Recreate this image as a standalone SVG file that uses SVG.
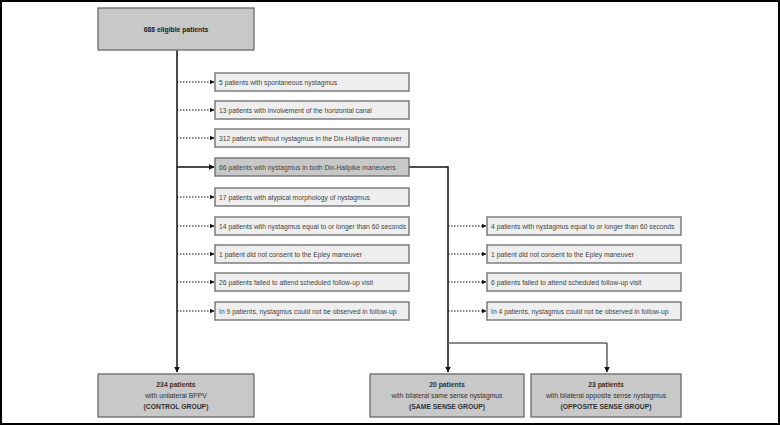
<svg xmlns="http://www.w3.org/2000/svg" width="780" height="425" viewBox="0 0 780 425">
<defs>
<style>
.main{fill:#c8c8c8;stroke:#6a6a6a;stroke-width:1.3}
.ex{fill:#eeeeee;stroke:#6a6a6a;stroke-width:1.3}
.t{font-family:"Liberation Sans",Arial,sans-serif;font-size:6.75px;fill:#444}
.tb{font-family:"Liberation Sans",Arial,sans-serif;font-size:6.8px;fill:#222;font-weight:bold}
.tc{font-family:"Liberation Sans",Arial,sans-serif;font-size:6.8px;fill:#333;text-anchor:middle}
.solid{stroke:#111;stroke-width:1.5;fill:none}
.dot{stroke:#111;stroke-width:1;stroke-dasharray:1.5 1.5;fill:none}
</style>
<marker id="ah" viewBox="0 0 10 10" refX="9" refY="5" markerWidth="4.5" markerHeight="4.5" orient="auto" markerUnits="userSpaceOnUse">
<path d="M0,0 L10,5 L0,10 z" fill="#111"/>
</marker>
<marker id="ahs" viewBox="0 0 10 10" refX="9" refY="5" markerWidth="5.5" markerHeight="5.5" orient="auto" markerUnits="userSpaceOnUse">
<path d="M0,0 L10,5 L0,10 z" fill="#111"/>
</marker>
</defs>
<rect x="0" y="0" width="780" height="425" fill="#fff"/>
<rect x="1" y="1" width="778" height="423" fill="none" stroke="#000" stroke-width="2"/>

<g id="connectors">
<path class="solid" d="M177,50 V372" marker-end="url(#ahs)"/>
<path class="solid" d="M177,167 H214" marker-end="url(#ahs)"/>
<path class="dot" d="M177,82 H214" marker-end="url(#ah)"/>
<path class="dot" d="M177,110 H214" marker-end="url(#ah)"/>
<path class="dot" d="M177,138 H214" marker-end="url(#ah)"/>
<path class="dot" d="M177,197 H214" marker-end="url(#ah)"/>
<path class="dot" d="M177,226 H214" marker-end="url(#ah)"/>
<path class="dot" d="M177,254 H214" marker-end="url(#ah)"/>
<path class="dot" d="M177,282 H214" marker-end="url(#ah)"/>
<path class="dot" d="M177,311 H214" marker-end="url(#ah)"/>
<path class="solid" d="M409,167 H448 V372" marker-end="url(#ahs)"/>
<path class="dot" d="M448,226 H486" marker-end="url(#ah)"/>
<path class="dot" d="M448,254 H486" marker-end="url(#ah)"/>
<path class="dot" d="M448,282 H486" marker-end="url(#ah)"/>
<path class="dot" d="M448,311 H486" marker-end="url(#ah)"/>
<path d="M448,343 H607" stroke="#666" stroke-width="1.5" fill="none"/>
<path d="M607,343 V372" stroke="#111" stroke-width="1" fill="none" marker-end="url(#ahs)"/>
</g>

<g id="n-eligible">
<rect class="main" x="98" y="8" width="156" height="42"/>
<text class="tb" x="176" y="31.5" text-anchor="middle">688 eligible patients</text>
</g>

<g id="n-ex1"><rect class="ex" x="215" y="73" width="194" height="18"/><text class="t" x="219" y="84.5">5 patients with spontaneous nystagmus</text></g>
<g id="n-ex2"><rect class="ex" x="215" y="101" width="194" height="18"/><text class="t" x="219" y="112.5">13 patients with involvement of the horizontal canal</text></g>
<g id="n-ex3"><rect class="ex" x="215" y="129" width="194" height="18"/><text class="t" x="219" y="140.5">312 patients without nystagmus in the Dix-Hallpike maneuver</text></g>
<g id="n-both"><rect class="main" x="215" y="158" width="194" height="18"/><text class="t" x="219" y="169.5">66 patients with nystagmus in both Dix-Hallpike maneuvers</text></g>
<g id="n-ex5"><rect class="ex" x="215" y="188" width="194" height="18"/><text class="t" x="219" y="199.5">17 patients with atypical morphology of nystagmus</text></g>
<g id="n-ex6"><rect class="ex" x="215" y="217" width="194" height="18"/><text class="t" x="219" y="228.5">14 patients with nystagmus equal to or longer than 60 seconds</text></g>
<g id="n-ex7"><rect class="ex" x="215" y="245" width="194" height="18"/><text class="t" x="219" y="256.5">1 patient did not consent to the Epley maneuver</text></g>
<g id="n-ex8"><rect class="ex" x="215" y="273" width="194" height="18"/><text class="t" x="219" y="284.5">26 patients failed to attend scheduled follow-up visit</text></g>
<g id="n-ex9"><rect class="ex" x="215" y="302" width="194" height="18"/><text class="t" x="219" y="313.5">In 9 patients, nystagmus could not be observed in follow-up</text></g>

<g id="n-rx1"><rect class="ex" x="487" y="217" width="194" height="18"/><text class="t" x="491" y="228.5">4 patients with nystagmus equal to or longer than 60 seconds</text></g>
<g id="n-rx2"><rect class="ex" x="487" y="245" width="194" height="18"/><text class="t" x="491" y="256.5">1 patient did not consent to the Epley maneuver</text></g>
<g id="n-rx3"><rect class="ex" x="487" y="273" width="194" height="18"/><text class="t" x="491" y="284.5">6 patients failed to attend scheduled follow-up visit</text></g>
<g id="n-rx4"><rect class="ex" x="487" y="302" width="194" height="18"/><text class="t" x="491" y="313.5">In 4 patients, nystagmus could not be observed in follow-up</text></g>

<g id="n-control">
<rect class="main" x="98" y="374" width="156" height="43"/>
<text class="tc" x="176" y="387"><tspan font-weight="bold">234 patients</tspan><tspan x="176" dy="11">with unilateral BPPV</tspan><tspan x="176" dy="11" font-weight="bold">(CONTROL GROUP)</tspan></text>
</g>
<g id="n-same">
<rect class="main" x="370" y="374" width="154" height="43"/>
<text class="tc" x="447" y="387"><tspan font-weight="bold">20 patients</tspan><tspan x="447" dy="11">with bilateral same sense nystagmus</tspan><tspan x="447" dy="11" font-weight="bold">(SAME SENSE GROUP)</tspan></text>
</g>
<g id="n-opposite">
<rect class="main" x="531" y="374" width="150" height="43"/>
<text class="tc" x="606" y="387"><tspan font-weight="bold">23 patients</tspan><tspan x="606" dy="11">with bilateral opposite sense nystagmus</tspan><tspan x="606" dy="11" font-weight="bold">(OPPOSITE SENSE GROUP)</tspan></text>
</g>
</svg>
